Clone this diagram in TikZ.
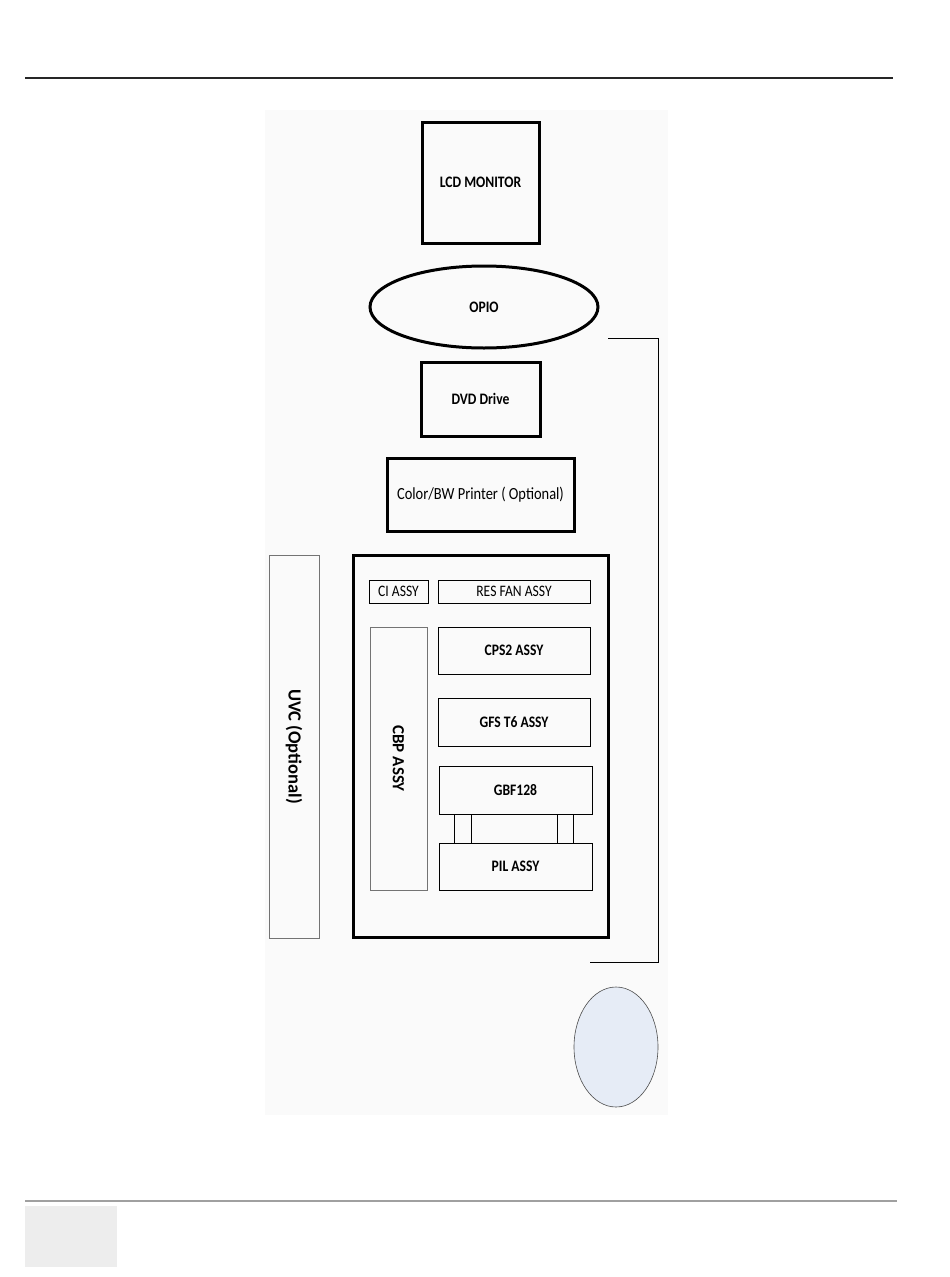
\documentclass[tikz,border=0pt]{standalone}
\usepackage{fontspec}
\setmainfont{Carlito}
\usetikzlibrary{shapes.geometric}
\definecolor{blobblue}{HTML}{E6ECF6}
\definecolor{pagegray}{HTML}{A0A0A0}
\newcommand{\sqz}[1]{\scalebox{0.85}[1]{#1}}
\begin{document}
\begin{tikzpicture}[x=1pt, y=-1pt,
                    unit/.style = {shape = rectangle,
                                   color = black,
                                   inner sep=0pt,
                                   line width=3pt,
                                   font=\fontsize{16}{16}\selectfont\bfseries,
                                   draw},
                    board/.style = {shape = rectangle,
                                    color = black,
                                    inner sep=0pt,
                                    line width=0.9pt,
                                    font=\fontsize{16}{16}\selectfont\bfseries,
                                    draw},
                    slot/.style = {board,
                                   color = black!55,
                                   text = black}]
	\useasboundingbox (0,0) rectangle (950,1277);
	% page frame
	\fill[black!2] (265,110) rectangle (668,1115);
	\draw[line width=1.8pt, black!85] (25,78) -- (893,78);
	\draw[line width=2pt, pagegray] (25,1201) -- (897,1201);
	\fill[black!7] (25,1206) rectangle (117,1267);
	% units
	\node[unit, minimum width=117pt, minimum height=121pt] (lcd) at (480.5,182.5) {\sqz{LCD MONITOR}};
	\node[unit, shape=ellipse, minimum width=228pt, minimum height=82pt] (opio) at (484,307) {\sqz{OPIO}};
	\node[unit, minimum width=119pt, minimum height=74pt] (dvd) at (480.5,399) {\sqz{DVD Drive}};
	\node[unit, minimum width=187pt, minimum height=73pt, font=\fontsize{17}{17}\selectfont] (printer) at (480.5,494.5) {\sqz{Color/BW Printer ( Optional)}};
	\node[unit, minimum width=255pt, minimum height=382pt] (chassis) at (480.5,746) {};
	\node[slot, minimum width=50pt, minimum height=383pt] (uvc) at (294,746.5) {};
	\node[rotate=-90, font=\fontsize{18.5}{18.5}\selectfont\bfseries] at (uvc.center) {UVC (Optional)};
	% boards
	\node[board, minimum width=59pt, minimum height=23pt, font=\fontsize{16}{16}\selectfont] (ci) at (398.5,591.5) {\sqz{CI ASSY}};
	\node[board, minimum width=152pt, minimum height=23pt, font=\fontsize{16}{16}\selectfont] (fan) at (514,591.5) {\sqz{RES FAN ASSY}};
	\node[slot, minimum width=57pt, minimum height=263pt] (cbp) at (398.5,758.5) {};
	\node[rotate=-90, font=\fontsize{17}{17}\selectfont\bfseries] at (cbp.center) {CBP ASSY};
	\node[board, minimum width=152pt, minimum height=47pt] (cps) at (514,650.5) {\sqz{CPS2 ASSY}};
	\node[board, minimum width=152pt, minimum height=48pt] (gfs) at (514,722) {\sqz{GFS T6 ASSY}};
	\node[board, minimum width=153pt, minimum height=48pt] (gbf) at (515.5,790) {\sqz{GBF128}};
	\node[board, minimum width=153pt, minimum height=47pt] (pil) at (515.5,866.5) {\sqz{PIL ASSY}};
	\foreach \dx in {16,33,119,135}
		\draw[line width=0.9pt] ([xshift=\dx pt]gbf.south west) -- ([xshift=\dx pt]pil.north west);
	% bracket
	\coordinate (brtop) at (608,338);
	\coordinate (brbot) at (590,962);
	\draw[line width=0.8pt] (brtop) -- (658,338) -- (658,962) -- (brbot);
	\node[shape=ellipse, draw=black!70, line width=0.6pt, fill=blobblue, minimum width=84pt, minimum height=120pt] (blob) at (616,1047) {};
\end{tikzpicture}
\end{document}
